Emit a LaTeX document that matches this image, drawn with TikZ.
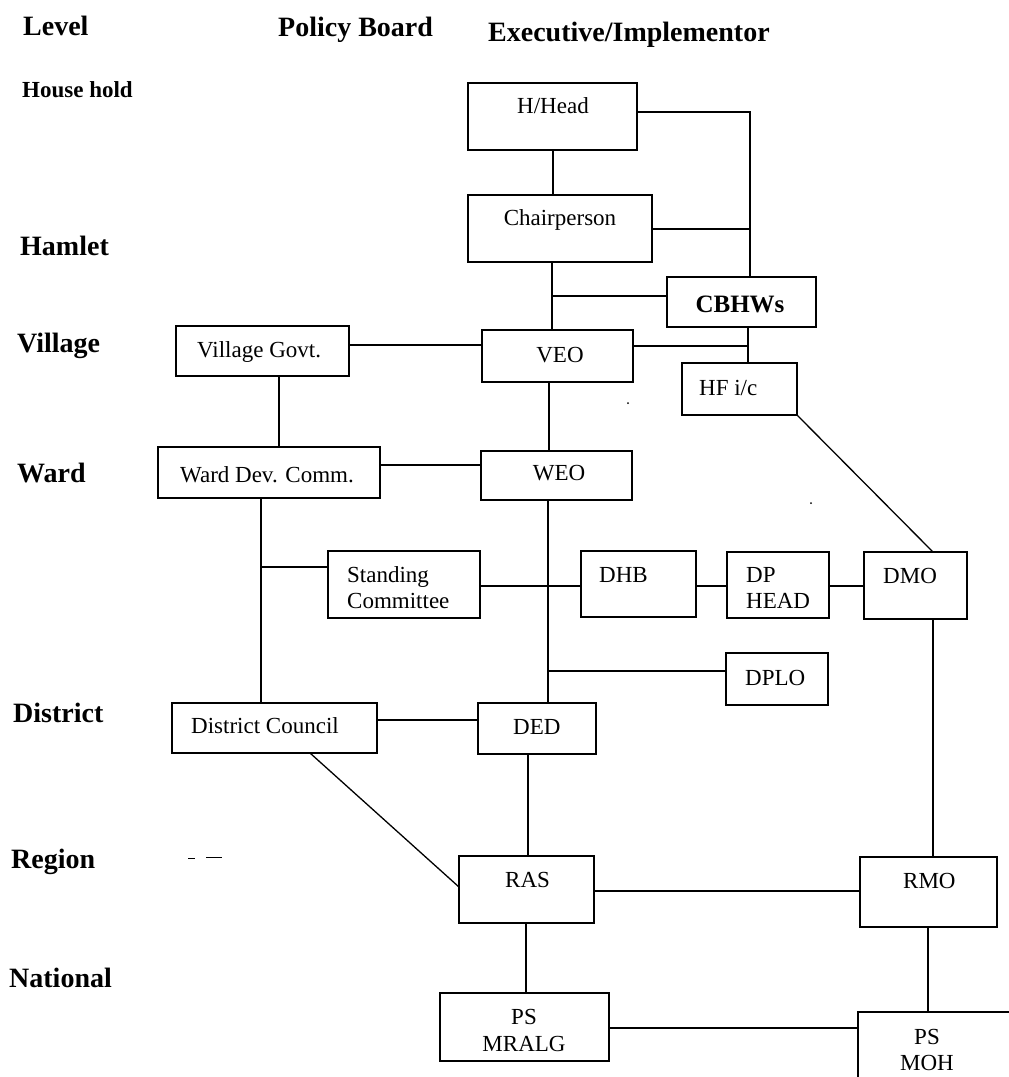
\documentclass[tikz,border=0pt]{standalone}
\usepackage{fontspec}
\setmainfont{Liberation Serif}
\begin{document}
\begin{tikzpicture}[x=1pt,y=-1pt,
  box/.style={draw, line width=1.4pt, inner sep=0pt, outer sep=0pt},
  bt/.style={font=\fontsize{23}{26}\selectfont, inner sep=0pt},
  lb/.style={font=\bfseries\fontsize{28}{32}\selectfont, inner sep=0pt, anchor=base west},
  conn/.style={line width=1.3pt}]
\useasboundingbox (0,0) rectangle (1009,1077);
\fill[white] (0,0) rectangle (1009,1077);
\clip (0,0) rectangle (1009,1077);

% headers and level labels
\node[lb] (hLevel) at (23,35) {Level};
\node[lb] (hPolicy) at (278,36) {Policy Board};
\node[lb] (hExec) at (488,41) {Executive/Implementor};
\node[lb, font=\bfseries\fontsize{23}{26}\selectfont] (lHouse) at (22,97) {House hold};
\node[lb] (lHamlet) at (20,255) {Hamlet};
\node[lb] (lVillage) at (17,352) {Village};
\node[lb] (lWard) at (17,482) {Ward};
\node[lb] (lDistrict) at (13,722) {District};
\node[lb] (lRegion) at (11,868) {Region};
\node[lb] (lNational) at (9,987) {National};

% boxes
\node[box, minimum width=169pt, minimum height=67pt] (hh) at (552.5,116.5) {};
\node[box, minimum width=184pt, minimum height=67pt] (ch) at (560,228.5) {};
\node[box, minimum width=149pt, minimum height=50pt] (cb) at (741.5,302) {};
\node[box, minimum width=151pt, minimum height=52pt] (veo) at (557.5,356) {};
\node[box, minimum width=115pt, minimum height=52pt] (hf) at (739.5,389) {};
\node[box, minimum width=173pt, minimum height=50pt] (vg) at (262.5,351) {};
\node[box, minimum width=222pt, minimum height=51pt] (wd) at (269,472.5) {};
\node[box, minimum width=151pt, minimum height=49pt] (weo) at (556.5,475.5) {};
\node[box, minimum width=152pt, minimum height=67pt] (sc) at (404,584.5) {};
\node[box, minimum width=115pt, minimum height=66pt] (dhb) at (638.5,584) {};
\node[box, minimum width=102pt, minimum height=66pt] (dp) at (778,585) {};
\node[box, minimum width=103pt, minimum height=67pt] (dmo) at (915.5,585.5) {};
\node[box, minimum width=102pt, minimum height=52pt] (dplo) at (777,679) {};
\node[box, minimum width=205pt, minimum height=50pt] (dc) at (274.5,728) {};
\node[box, minimum width=118pt, minimum height=51pt] (ded) at (537,728.5) {};
\node[box, minimum width=135pt, minimum height=67pt] (ras) at (526.5,889.5) {};
\node[box, minimum width=137pt, minimum height=70pt] (rmo) at (928.5,892) {};
\node[box, minimum width=169pt, minimum height=68pt] (psm) at (524.5,1027) {};
\node[box, minimum width=172pt, minimum height=88pt] (psh) at (944,1056) {};

% box texts
\node[bt, anchor=base] (thh) at (553,113) {H/Head};
\node[bt, anchor=base] (tch) at (560,225) {Chairperson};
\node[bt, anchor=base, font=\bfseries\fontsize{25}{28}\selectfont] (tcb) at (740,312) {CBHWs};
\node[bt, anchor=base] (tveo) at (560,362) {VEO};
\node[bt, anchor=base west] (thf) at (699,395) {HF i/c};
\node[bt, anchor=base west] (tvg) at (197,357) {Village Govt.};
\node[bt, anchor=base west] (twd) at (180,482) {Ward Dev. Comm.};
\node[bt, anchor=base] (tweo) at (559,480) {WEO};
\node[bt, anchor=base west] (tsc1) at (347,582) {Standing};
\node[bt, anchor=base west] (tsc2) at (347,608) {Committee};
\node[bt, anchor=base west] (tdhb) at (599,582) {DHB};
\node[bt, anchor=base west] (tdp1) at (746,582) {DP};
\node[bt, anchor=base west] (tdp2) at (746,608) {HEAD};
\node[bt, anchor=base west] (tdmo) at (883,583) {DMO};
\node[bt, anchor=base west] (tdplo) at (745,685) {DPLO};
\node[bt, anchor=base west] (tdc) at (191,733) {District Council};
\node[bt, anchor=base west] (tded) at (513,734) {DED};
\node[bt, anchor=base west] (tras) at (505,887) {RAS};
\node[bt, anchor=base west] (trmo) at (903,888) {RMO};
\node[bt, anchor=base] (tpsm1) at (524,1024) {PS};
\node[bt, anchor=base] (tpsm2) at (524,1051) {MRALG};
\node[bt, anchor=base] (tpsh1) at (927,1044) {PS};
\node[bt, anchor=base] (tpsh2) at (927,1070) {MOH};

% connectors
\begin{scope}[conn]
\coordinate (k1) at (750,112);
\draw (hh.east |- k1) -| (cb.north -| k1);
\coordinate (k2) at (750,229);
\draw (ch.east |- k2) -- (k2);
\coordinate (k3) at (553,0);
\draw (hh.south -| k3) -- (ch.north -| k3);
\coordinate (k4) at (552,296);
\draw (ch.south -| k4) -- (veo.north -| k4);
\draw (k4) -- (cb.west |- k4);
\coordinate (k5) at (748,346);
\draw (cb.south -| k5) -- (hf.north -| k5);
\draw (veo.east |- k5) -- (k5);
\coordinate (k6) at (0,345);
\draw (vg.east |- k6) -- (veo.west |- k6);
\coordinate (k7) at (279,0);
\draw (vg.south -| k7) -- (wd.north -| k7);
\coordinate (k8) at (549,0);
\draw (veo.south -| k8) -- (weo.north -| k8);
\coordinate (k9) at (0,465);
\draw (wd.east |- k9) -- (weo.west |- k9);
\coordinate (k10) at (261,567);
\draw (wd.south -| k10) -- (dc.north -| k10);
\draw (k10) -- (sc.west |- k10);
\coordinate (k11) at (548,671);
\draw (weo.south -| k11) -- (ded.north -| k11);
\draw (k11) -- (dplo.west |- k11);
\coordinate (k12) at (0,586);
\draw (sc.east |- k12) -- (dhb.west |- k12);
\draw (dhb.east |- k12) -- (dp.west |- k12);
\draw (dp.east |- k12) -- (dmo.west |- k12);
\coordinate (k13) at (0,720);
\draw (dc.east |- k13) -- (ded.west |- k13);
\coordinate (k14) at (310,0);
\coordinate (k15) at (0,887);
\draw (dc.south -| k14) -- (ras.west |- k15);
\coordinate (k16) at (528,0);
\draw (ded.south -| k16) -- (ras.north -| k16);
\coordinate (k17) at (0,891);
\draw (ras.east |- k17) -- (rmo.west |- k17);
\coordinate (k18) at (526,0);
\draw (ras.south -| k18) -- (psm.north -| k18);
\coordinate (k19) at (0,1028);
\draw (psm.east |- k19) -- (psh.west |- k19);
\coordinate (k20) at (933,0);
\draw (hf.south east) -- (dmo.north -| k20);
\draw (dmo.south -| k20) -- (rmo.north -| k20);
\coordinate (k21) at (928,0);
\draw (rmo.south -| k21) -- (psh.north -| k21);
\end{scope}

% small scan marks
\coordinate (m1) at (188,858);
\coordinate (m2) at (195,858);
\coordinate (m3) at (206,857);
\coordinate (m4) at (222,857);
\draw[line width=0.8pt] (m1) -- (m2);
\draw[line width=0.8pt] (m3) -- (m4);
\fill (628,403) circle (1pt);
\fill (811,503) circle (1pt);
\end{tikzpicture}
\end{document}
